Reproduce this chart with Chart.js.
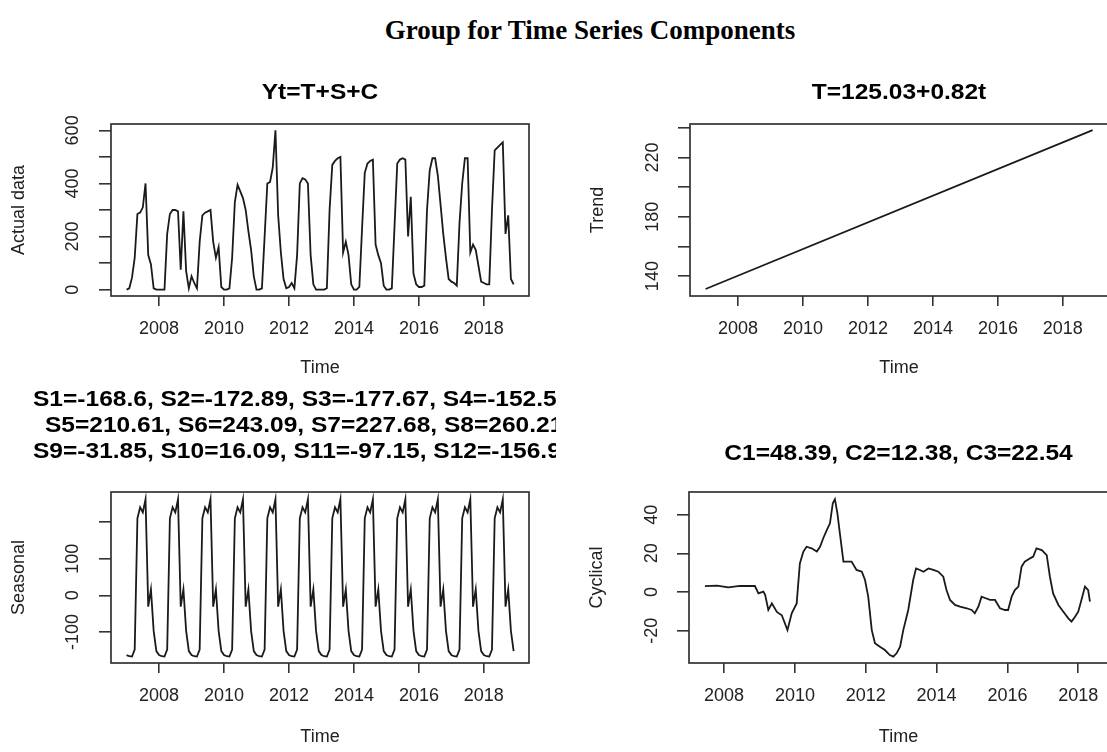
<!DOCTYPE html>
<html>
<head>
<meta charset="utf-8">
<title>Group for Time Series Components</title>
<script src="https://cdn.jsdelivr.net/npm/chart.js@4.4.1/dist/chart.umd.min.js"></script>
<style>
  html, body { margin: 0; padding: 0; background: #fff; width: 1107px; height: 752px; overflow: hidden; }
  #mainTitle { position: absolute; left: 0; top: 15px; width: 1180px; text-align: center; line-height: 30px;
    font-family: "Liberation Serif", "Times New Roman", serif; font-weight: bold; font-size: 27px; color: #000; }
  canvas { position: absolute; }
</style>
</head>
<body>
<div id="mainTitle">Group for Time Series Components</div>
<canvas id="cActual" width="556" height="320" style="left:0;top:60px"></canvas>
<canvas id="cTrend" width="560" height="320" style="left:556px;top:60px"></canvas>
<canvas id="cSeasonal" width="556" height="372" style="left:0;top:380px"></canvas>
<canvas id="cCyclical" width="560" height="372" style="left:556px;top:380px"></canvas>
<script>
// monthly series, starting January 2007
const startYear = 2007;
const actualData = [
  0, 5, 45, 120, 285, 290, 310, 400, 130, 95, 5, 0,        // 2007
  0, 0, 0, 210, 285, 300, 300, 295, 75, 295, 70, 5,        // 2008
  50, 25, 5, 180, 280, 290, 295, 300, 180, 120, 160, 10,   // 2009
  0, 0, 5, 120, 330, 395, 370, 345, 300, 220, 150, 50,     // 2010
  0, 0, 5, 200, 400, 405, 460, 600, 280, 140, 40, 5,       // 2011
  10, 25, 5, 130, 400, 420, 415, 400, 130, 20, 0, 0,       // 2012
  0, 0, 5, 300, 470, 485, 495, 500, 140, 180, 130, 20,     // 2013
  0, 0, 10, 230, 440, 475, 485, 490, 170, 130, 100, 15,    // 2014
  0, 0, 5, 240, 475, 490, 495, 490, 200, 350, 60, 20,      // 2015
  10, 10, 15, 300, 450, 495, 495, 430, 320, 210, 120, 40,  // 2016
  30, 25, 15, 250, 400, 495, 495, 140, 170, 150, 90, 30,   // 2017
  25, 20, 20, 300, 525, 535, 545, 555, 210, 280, 40, 20    // 2018
];

// seasonal component, same twelve values every year
const seasonalData = [
  -163, -166, -167, -148, 210, 240, 226, 262, -31, 16, -97, -152,
  -163, -166, -167, -148, 210, 240, 226, 262, -31, 16, -97, -152,
  -163, -166, -167, -148, 210, 240, 226, 262, -31, 16, -97, -152,
  -163, -166, -167, -148, 210, 240, 226, 262, -31, 16, -97, -152,
  -163, -166, -167, -148, 210, 240, 226, 262, -31, 16, -97, -152,
  -163, -166, -167, -148, 210, 240, 226, 262, -31, 16, -97, -152,
  -163, -166, -167, -148, 210, 240, 226, 262, -31, 16, -97, -152,
  -163, -166, -167, -148, 210, 240, 226, 262, -31, 16, -97, -152,
  -163, -166, -167, -148, 210, 240, 226, 262, -31, 16, -97, -152,
  -163, -166, -167, -148, 210, 240, 226, 262, -31, 16, -97, -152,
  -163, -166, -167, -148, 210, 240, 226, 262, -31, 16, -97, -152,
  -163, -166, -167, -148, 210, 240, 226, 262, -31, 16, -97, -152
];

// trend line end points
const trendTime = [2007.0, 2018.917];
const trendData = [131.3, 238.4];

// cyclical component
const cyclicalTime = [
  2007.46, 2007.80, 2008.12, 2008.45, 2008.87, 2008.97, 2009.11, 2009.16, 2009.25, 2009.35,
  2009.49, 2009.63, 2009.79, 2009.91, 2010.05, 2010.14, 2010.24, 2010.33, 2010.47, 2010.62,
  2010.71, 2010.80, 2010.90, 2010.99, 2011.07, 2011.13, 2011.20, 2011.27, 2011.37, 2011.46,
  2011.60, 2011.74, 2011.89, 2011.98, 2012.07, 2012.17, 2012.26, 2012.40, 2012.54, 2012.68,
  2012.78, 2012.87, 2012.97, 2013.06, 2013.20, 2013.34, 2013.42, 2013.53, 2013.63, 2013.77,
  2013.91, 2014.05, 2014.19, 2014.28, 2014.38, 2014.52, 2014.66, 2014.85, 2014.99, 2015.08,
  2015.18, 2015.27, 2015.37, 2015.51, 2015.65, 2015.79, 2015.93, 2016.02, 2016.12, 2016.21,
  2016.31, 2016.40, 2016.49, 2016.64, 2016.73, 2016.82, 2016.97, 2017.11, 2017.20, 2017.29,
  2017.44, 2017.58, 2017.72, 2017.81, 2017.91, 2018.00, 2018.09, 2018.19, 2018.28, 2018.33
];
const cyclicalData = [
  3.0, 3.3, 2.4, 3.2, 3.1, -0.7, 0.2, -1.5, -9.3, -5.9,
  -10.3, -12.0, -19.7, -11.0, -5.9, 14.8, 20.9, 23.4, 22.6, 20.9,
  23.4, 27.8, 32.0, 35.5, 45.9, 48.0, 40.7, 30.3, 15.7, 15.7,
  15.7, 11.4, 10.5, 6.2, -2.4, -19.7, -26.5, -28.3, -30.0, -32.6,
  -33.4, -31.7, -28.3, -19.7, -9.3, 6.2, 12.2, 11.4, 10.5, 12.2,
  11.4, 10.5, 7.9, 1.0, -4.1, -6.7, -7.6, -8.4, -9.3, -11.0,
  -7.6, -2.4, -3.1, -4.1, -4.1, -8.4, -9.3, -9.3, -2.4, 1.0,
  2.8, 13.1, 15.7, 17.4, 18.3, 22.6, 21.7, 19.1, 7.9, -0.7,
  -6.7, -10.2, -13.6, -15.3, -12.8, -10.2, -4.1, 2.8, 1.0, -5.0
];

const xTickYears = [2008, 2010, 2012, 2014, 2016, 2018];

const actualTicks = [0, 100, 200, 300, 400, 500, 600];
const actualLabels = [0, 200, 400, 600];
const trendTicks = [140, 160, 180, 200, 220, 240];
const trendLabels = [140, 180, 220];
const seasonalTicks = [-100, 0, 100, 200];
const seasonalLabels = [-100, 0, 100];
const cyclicalTicks = [-20, 0, 20, 40];
const cyclicalLabels = [-20, 0, 20, 40];

const actualTitle = ['Yt=T+S+C'];
const trendTitle = ['T=125.03+0.82t'];
const seasonalTitle = [
  'S1=-168.6, S2=-172.89, S3=-177.67, S4=-152.5',
  'S5=210.61, S6=243.09, S7=227.68, S8=260.21',
  'S9=-31.85, S10=16.09, S11=-97.15, S12=-156.9'
];
const cyclicalTitle = ['C1=48.39, C2=12.38, C3=22.54'];

const SANS = '"Liberation Sans", Arial, Helvetica, sans-serif';
const INK = '#222';
const TITLE_STRETCH = 1.115;

// R style frame, rotated y labels, axis titles and plot title
const rFrame = {
  id: 'rFrame',
  afterDraw(chart, args, o) {
    const { ctx, chartArea: a } = chart;
    const ys = chart.scales.y;
    const cx = (a.left + a.right) / 2;
    ctx.save();
    ctx.strokeStyle = '#333';
    ctx.lineWidth = 1.7;
    ctx.strokeRect(a.left, a.top, a.right - a.left, a.bottom - a.top);

    ctx.fillStyle = INK;
    ctx.textAlign = 'center';
    ctx.textBaseline = 'middle';
    ctx.font = '18px ' + SANS;
    o.yLabels.forEach(v => {
      ctx.save();
      ctx.translate(a.left - o.yLabelGap, ys.getPixelForValue(v));
      ctx.rotate(-Math.PI / 2);
      ctx.fillText(String(v), 0, 0);
      ctx.restore();
    });
    ctx.save();
    ctx.translate(a.left - o.yTitleGap, (a.top + a.bottom) / 2);
    ctx.rotate(-Math.PI / 2);
    ctx.fillText(o.yTitle, 0, 0);
    ctx.restore();
    ctx.fillText('Time', cx, a.bottom + o.xTitleGap);

    // plot title; long lines start at fixed x and run past the edge
    ctx.fillStyle = '#000';
    ctx.font = 'bold 22px ' + SANS;
    const n = o.title.length;
    o.title.forEach((line, i) => {
      ctx.save();
      const ty = a.top - o.titleGap - (n - 1 - i) * 26;
      if (o.titleStart) {
        ctx.textAlign = 'left';
        ctx.translate(o.titleStart[i], ty);
      } else {
        ctx.translate(cx, ty);
      }
      ctx.scale(TITLE_STRETCH, 1);
      ctx.fillText(line, 0, 0);
      ctx.restore();
    });
    ctx.restore();
  }
};

function makeChart(id, cv, box, xRange, yRange, yTicks, points, frame) {
  return new Chart(document.getElementById(id), {
    type: 'line',
    data: {
      datasets: [{
        data: points,
        borderColor: '#1a1a1a',
        borderWidth: 1.8,
        pointRadius: 0,
        tension: 0,
        fill: false
      }]
    },
    options: {
      responsive: false,
      animation: false,
      layout: {
        padding: { top: box.t - cv.top, right: cv.left + cv.w - box.r, left: 0, bottom: 0 }
      },
      scales: {
        x: {
          type: 'linear',
          position: 'bottom',
          min: xRange[0],
          max: xRange[1],
          afterBuildTicks: s => { s.ticks = xTickYears.map(v => ({ value: v })); },
          afterFit: s => { s.height = cv.top + cv.h - box.b; },
          grid: { drawOnChartArea: false, drawTicks: true, tickLength: 10, color: '#333', lineWidth: 1.6 },
          border: { display: false },
          ticks: {
            autoSkip: false,
            maxRotation: 0,
            padding: 12,
            color: INK,
            font: { family: SANS, size: 18 },
            callback: v => String(v)
          }
        },
        y: {
          type: 'linear',
          position: 'left',
          min: yRange[0],
          max: yRange[1],
          afterBuildTicks: s => { s.ticks = yTicks.map(v => ({ value: v })); },
          afterFit: s => { s.width = box.l - cv.left; },
          grid: { drawOnChartArea: false, drawTicks: true, tickLength: 12, color: '#333', lineWidth: 1.6 },
          border: { display: false },
          ticks: { display: false }
        }
      },
      plugins: {
        legend: { display: false },
        tooltip: { enabled: false },
        rFrame: frame
      }
    },
    plugins: [rFrame]
  });
}

const monthly = arr => arr.map((v, i) => ({ x: startYear + i / 12, y: v }));
const paired = (xs, ys) => xs.map((x, i) => ({ x: x, y: ys[i] }));

makeChart('cActual',
  { left: 0, top: 60, w: 556, h: 320 },
  { l: 111, t: 124, r: 529, b: 296 },
  [2006.52, 2019.39], [-24, 624], actualTicks, monthly(actualData),
  { yLabels: actualLabels, yTitle: 'Actual data', title: actualTitle,
    yLabelGap: 38, yTitleGap: 92, xTitleGap: 72, titleGap: 31 });

makeChart('cTrend',
  { left: 556, top: 60, w: 560, h: 320 },
  { l: 690, t: 124, r: 1108, b: 296 },
  [2006.52, 2019.39], [126.6, 242.5], trendTicks, paired(trendTime, trendData),
  { yLabels: trendLabels, yTitle: 'Trend', title: trendTitle,
    yLabelGap: 37, yTitleGap: 92, xTitleGap: 72, titleGap: 31 });

makeChart('cSeasonal',
  { left: 0, top: 380, w: 556, h: 372 },
  { l: 111, t: 492, r: 529, b: 663 },
  [2006.52, 2019.39], [-184.5, 281.8], seasonalTicks, monthly(seasonalData),
  { yLabels: seasonalLabels, yTitle: 'Seasonal', title: seasonalTitle, titleStart: [33, 45, 33],
    yLabelGap: 38, yTitleGap: 92, xTitleGap: 74, titleGap: 40 });

makeChart('cCyclical',
  { left: 556, top: 380, w: 560, h: 372 },
  { l: 689, t: 492, r: 1108, b: 663 },
  [2007.01, 2018.84], [-36.7, 51.7], cyclicalTicks, paired(cyclicalTime, cyclicalData),
  { yLabels: cyclicalLabels, yTitle: 'Cyclical', title: cyclicalTitle,
    yLabelGap: 37, yTitleGap: 92, xTitleGap: 74, titleGap: 38 });
</script>
</body>
</html>
